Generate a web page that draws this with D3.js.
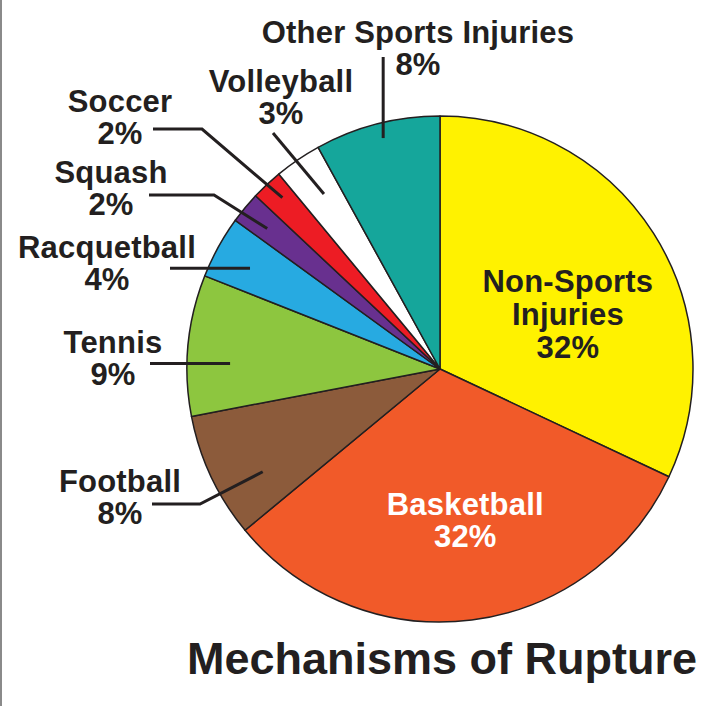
<!DOCTYPE html>
<html>
<head>
<meta charset="utf-8">
<script src="https://cdn.jsdelivr.net/npm/d3@7/dist/d3.min.js"></script>
<style>
  html, body { margin: 0; padding: 0; background: #fff; }
  svg { display: block; }
  text { font-family: "Liberation Sans", Arial, Helvetica, sans-serif; font-weight: bold; }
</style>
</head>
<body>
<svg id="chart" width="726" height="706"></svg>
<script>
// Causes of rupture, clockwise from 12 o'clock (percent of cases)
const categories = ["Non-Sports Injuries", "Basketball", "Football", "Tennis", "Racquetball",
                    "Squash", "Soccer", "Volleyball", "Other Sports Injuries"];
const values = [32, 32, 8, 9, 4, 2, 2, 3, 8];
const colors = ["#FFF200", "#F15A29", "#8C5B3B", "#8DC63F", "#27AAE1",
                "#68308F", "#ED1C24", "#FFFFFF", "#15A69B"];
const title = "Mechanisms of Rupture";

// Label placement: text lines, anchor (x, first baseline), and leader line
// ending inside the slice at fraction t of its sweep and fraction r of the radius.
const outsideLabels = [
  { i: 8, lines: ["Other Sports Injuries", "8%"], x: 418, y: 43, t: 0.52, r: 0.94, leader: "vertical", fromY: 57 },
  { i: 7, lines: ["Volleyball", "3%"], x: 281, y: 92, t: 0.56, r: 0.83, leader: "direct", from: [273, 133] },
  { i: 6, lines: ["Soccer", "2%"], x: 120, y: 112, t: 0.58, r: 0.92, leader: "elbow", from: [153, 129], elbowX: 202 },
  { i: 5, lines: ["Squash", "2%"], x: 111, y: 183, t: 0.43, r: 0.88, leader: "elbow", from: [149, 195], elbowX: 214 },
  { i: 4, lines: ["Racquetball", "4%"], x: 107, y: 258, t: 0.44, r: 0.85, leader: "horizontal", fromX: 170 },
  { i: 3, lines: ["Tennis", "9%"], x: 113, y: 353, t: 0.38, r: 0.83, leader: "horizontal", fromX: 150 },
  { i: 2, lines: ["Football", "8%"], x: 120, y: 492, t: 0.33, r: 0.81, leader: "elbow", from: [152, 504], elbowX: 200 }
];
const insideLabels = [
  { i: 0, lines: ["Non-Sports", "Injuries", "32%"], t: 0.58, r: 0.55, fill: "#231F20", lh: 33 },
  { i: 1, lines: ["Basketball", "32%"], t: 0.48, r: 0.605, fill: "#FFFFFF", lh: 32 }
];

const svg = d3.select("#chart");
const W = 726, H = 706;
const cx = 440, cy = 369, R = 253;
const ink = "#231F20";
const labelSize = 31, labelTrack = 0.2, lineGap = 32;

svg.append("rect").attr("width", W).attr("height", H).attr("fill", "#fff");
svg.append("line").attr("x1", 1).attr("x2", 1).attr("y1", 0).attr("y2", H)
  .attr("stroke", "#8a8a8a").attr("stroke-width", 2);

const data = categories.map((c, i) => ({ name: c, value: values[i], color: colors[i] }));
const pie = d3.pie().value(d => d.value).sort(null).startAngle(0).endAngle(2 * Math.PI);
const arcs = pie(data);
const arc = d3.arc().innerRadius(0).outerRadius(R);

const g = svg.append("g").attr("transform", `translate(${cx},${cy})`);
g.selectAll("path.slice").data(arcs).join("path")
  .attr("class", "slice")
  .attr("d", arc)
  .attr("fill", d => d.data.color)
  .attr("stroke", ink)
  .attr("stroke-width", 1.5)
  .attr("stroke-linejoin", "round");

// point inside slice a at sweep fraction t and radius fraction r (page coords)
function polar(a, t, r) {
  const ang = a.startAngle + t * (a.endAngle - a.startAngle);
  return [cx + r * R * Math.sin(ang), cy - r * R * Math.cos(ang)];
}

function drawLines(sel, lines, x, y, lh, fill) {
  const t = sel.append("text")
    .attr("text-anchor", "middle")
    .attr("font-size", labelSize)
    .attr("letter-spacing", labelTrack)
    .attr("fill", fill);
  lines.forEach((s, k) => {
    t.append("tspan").attr("x", x).attr("y", y + k * lh).text(s);
  });
}

const leaders = svg.append("g").attr("fill", "none").attr("stroke", ink)
  .attr("stroke-width", 3).attr("stroke-linejoin", "miter");
const line = d3.line();

outsideLabels.forEach(L => {
  const end = polar(arcs[L.i], L.t, L.r);
  let pts;
  if (L.leader === "vertical") pts = [[end[0], L.fromY], end];
  else if (L.leader === "horizontal") pts = [[L.fromX, end[1]], end];
  else if (L.leader === "elbow") pts = [L.from, [L.elbowX, L.from[1]], end];
  else pts = [L.from, end];
  leaders.append("path").attr("d", line(pts));
  drawLines(svg, L.lines, L.x, L.y, lineGap, ink);
});

insideLabels.forEach(L => {
  const c = polar(arcs[L.i], L.t, L.r);
  const n = L.lines.length;
  const firstBase = c[1] - (n - 1) * L.lh / 2 + labelSize * 0.36;
  drawLines(svg, L.lines, c[0], firstBase, L.lh, L.fill);
});

svg.append("text")
  .attr("x", 442).attr("y", 674)
  .attr("text-anchor", "middle")
  .attr("font-size", 45)
  .attr("fill", ink)
  .text(title);
</script>
</body>
</html>
